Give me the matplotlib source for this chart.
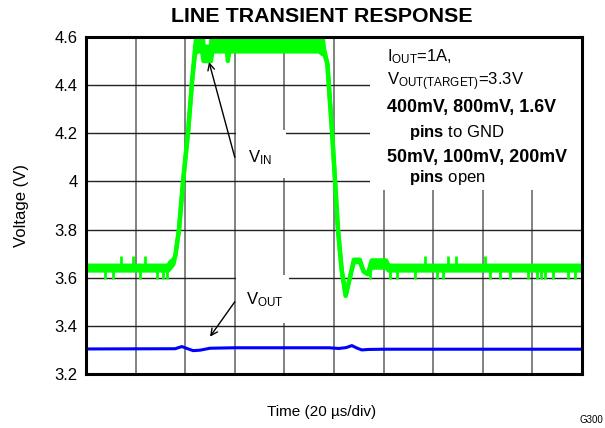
import matplotlib
matplotlib.use('Agg')
import matplotlib.pyplot as plt
from matplotlib.patches import Rectangle

plt.rcParams['font.family'] = ['Liberation Sans', 'DejaVu Sans']
plt.rcParams['mathtext.fontset'] = 'custom'
plt.rcParams['mathtext.rm'] = 'Liberation Sans'
plt.rcParams['mathtext.it'] = 'Liberation Sans:italic'
plt.rcParams['mathtext.bf'] = 'Liberation Sans:bold'

GREEN = '#00ff00'
BLUE = '#0000ff'

# VIN trace as scope envelope (time in divisions, volts)
vin_t = [0.00, 1.66, 1.70, 1.76, 1.80, 1.875, 1.96, 2.06, 2.14, 2.20,
         2.25, 2.34, 2.37, 2.52, 2.55, 2.84, 2.86, 2.89, 2.92, 2.97,
         3.00, 4.70, 4.76, 4.80, 4.866, 4.96, 5.02, 5.08, 5.155, 5.235,
         5.32, 5.40, 5.52, 5.60, 5.68, 5.76, 6.05, 6.10, 10.0]
vin_lo = [3.630, 3.630, 3.640, 3.655, 3.690, 3.800, 4.006, 4.210, 4.420, 4.530,
          4.540, 4.540, 4.500, 4.500, 4.540, 4.540, 4.500, 4.540, 4.540, 4.540,
          4.540, 4.540, 4.530, 4.530, 4.490, 4.210, 4.006, 3.800, 3.632, 3.525,
          3.600, 3.665, 3.665, 3.625, 3.615, 3.642, 3.642, 3.630, 3.630]
vin_hi = [3.650, 3.650, 3.665, 3.675, 3.690, 3.800, 4.006, 4.210, 4.420, 4.560,
          4.650, 4.650, 4.560, 4.560, 4.650, 4.650, 4.650, 4.650, 4.560, 4.560,
          4.650, 4.650, 4.620, 4.550, 4.490, 4.210, 4.006, 3.800, 3.632, 3.525,
          3.600, 3.675, 3.675, 3.625, 3.615, 3.672, 3.672, 3.650, 3.650]

# noise spikes on the VIN baseline
vin_spike_up_t = [0.706, 0.948, 1.19, 6.83, 7.30, 7.46, 8.04]
vin_spike_dn_t = [0.38, 0.54, 1.09, 1.43, 1.55, 1.63, 5.73, 6.13, 6.27, 6.63,
                  7.08, 7.20, 8.15, 8.35, 8.55, 8.91, 9.09, 9.17, 9.25, 9.42,
                  9.72, 9.86]
VIN_BASE = 3.640
VIN_SPIKE_UP = 3.690
VIN_SPIKE_DN = 3.595

# VOUT trace
vout_t = [0, 1.80, 1.93, 2.05, 2.16, 2.30, 2.50, 3.0, 4.90, 5.10, 5.25, 5.36,
          5.46, 5.56, 5.70, 6.0, 10]
vout_v = [3.304, 3.305, 3.314, 3.305, 3.297, 3.299, 3.307, 3.309, 3.309, 3.306,
          3.310, 3.318, 3.308, 3.300, 3.302, 3.303, 3.303]

y_ticks = [3.2, 3.4, 3.6, 3.8, 4.0, 4.2, 4.4, 4.6]
y_tick_labels = ['3.2', '3.4', '3.6', '3.8', '4', '4.2', '4.4', '4.6']
x_divs = list(range(0, 11))

# (text, bold, indent) for the conditions block
info_lines = [(r'$\mathrm{I_{OUT}}$=1A,', 'normal', 0.0),
              (r'$\mathrm{V_{OUT(TARGET)}}$=3.3V', 'normal', 0.0),
              ('400mV, 800mV, 1.6V', 'bold', 0.0),
              (r'$\mathbf{pins}$ to GND', 'normal', 0.45),
              ('50mV, 100mV, 200mV', 'bold', 0.0),
              (r'$\mathbf{pins}$ open', 'normal', 0.45)]
info_y = [4.517, 4.413, 4.309, 4.205, 4.101, 4.018]

fig = plt.figure(figsize=(6.05, 4.28), dpi=100)
ax = fig.add_axes([86 / 605, 54 / 428, 496 / 605, 337 / 428])

ax.set_xlim(0, 10)
ax.set_ylim(3.2, 4.6)
ax.set_xticks(x_divs)
ax.set_xticklabels([])
ax.set_yticks(y_ticks)
ax.set_yticklabels(y_tick_labels, fontsize=12)
ax.tick_params(length=0, pad=6)
ax.set_axisbelow(True)
ax.xaxis.grid(True, color='#777777', lw=1.3)
ax.yaxis.grid(True, color='#222222', lw=1.0)
for s in ax.spines.values():
    s.set_linewidth(2.2)

# white label boxes hiding the grid
ax.add_patch(Rectangle((5.73, 3.965), 4.27, 0.64, facecolor='white', edgecolor='none', zorder=1))
ax.add_patch(Rectangle((3.02, 4.014), 1.01, 0.20, facecolor='white', edgecolor='none', zorder=1))
ax.add_patch(Rectangle((3.02, 3.412), 1.08, 0.199, facecolor='white', edgecolor='none', zorder=1))

# VIN
ax.fill_between(vin_t, vin_lo, vin_hi, color=GREEN, lw=0, zorder=2)
ax.plot(vin_t, vin_lo, color=GREEN, lw=3.1, zorder=2)
ax.plot(vin_t, vin_hi, color=GREEN, lw=3.1, zorder=2)
ax.vlines(vin_spike_up_t, VIN_BASE, VIN_SPIKE_UP, colors=GREEN, lw=2.0, zorder=2, capstyle='butt')
ax.vlines(vin_spike_dn_t, VIN_SPIKE_DN, VIN_BASE, colors=GREEN, lw=2.0, zorder=2, capstyle='butt')

# VOUT
ax.plot(vout_t, vout_v, color=BLUE, lw=2.2, zorder=2)

# labels with arrows
ax.annotate('', xy=(2.48, 4.496), xytext=(3.0, 4.10),
            arrowprops=dict(arrowstyle='->', lw=1, color='black', mutation_scale=12,
                            shrinkA=0, shrinkB=0), zorder=3)
ax.annotate('', xy=(2.5, 3.355), xytext=(3.0, 3.50),
            arrowprops=dict(arrowstyle='->', lw=1, color='black', mutation_scale=12,
                            shrinkA=0, shrinkB=0), zorder=3)
ax.text(3.5, 4.097, r'$\mathrm{V_{IN}}$', fontsize=12, ha='center', va='center', zorder=3)
ax.text(3.6, 3.507, r'$\mathrm{V_{OUT}}$', fontsize=12, ha='center', va='center', zorder=3)

for (txt, weight, indent), yv in zip(info_lines, info_y):
    size = 12.9 if weight == 'bold' else 12
    ax.text(6.07 + indent, yv, txt, fontsize=size, fontweight=weight,
            ha='left', va='center', zorder=3)

fig.text(322 / 605, 1 - 17 / 428, 'LINE TRANSIENT RESPONSE', fontsize=15.4,
         fontweight='bold', ha='center', va='center')
fig.text(322 / 605, 1 - 412 / 428, 'Time (20 µs/div)', fontsize=11, ha='center', va='center')
fig.text(22 / 605, 1 - 205 / 428, 'Voltage (V)', fontsize=12, rotation=90,
         ha='center', va='center')
fig.text(580 / 605, 1 - 420 / 428, 'G300', fontsize=7, ha='left', va='center')

fig.savefig('out.png', dpi=100)
